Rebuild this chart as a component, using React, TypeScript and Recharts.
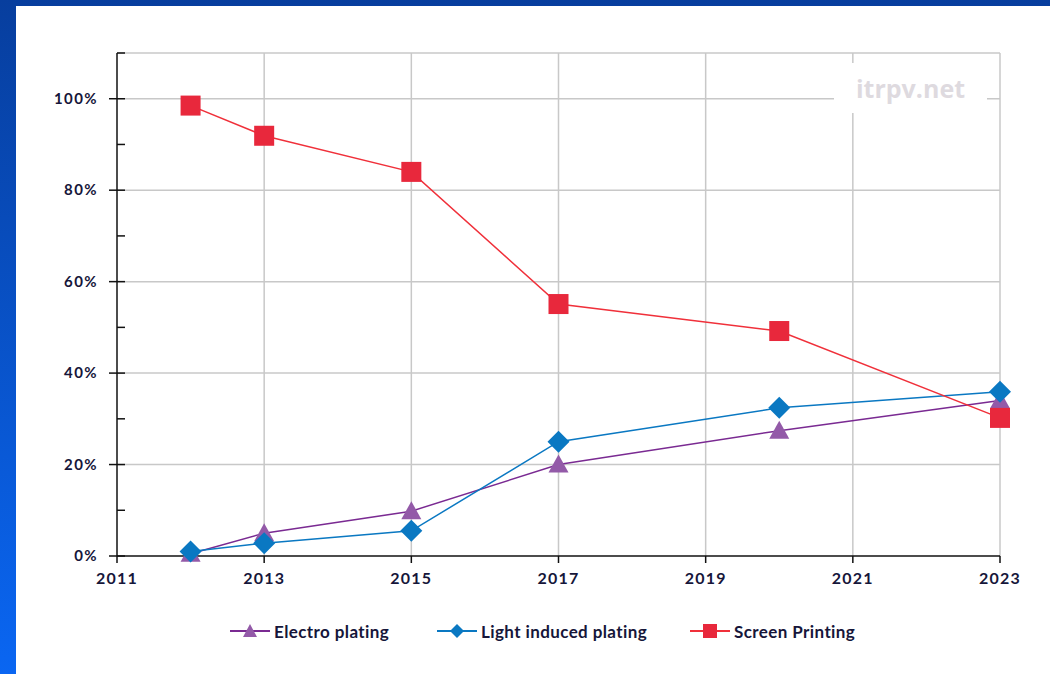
import React from "react"
import { LineChart, Line, XAxis, YAxis, CartesianGrid } from "recharts"

const years = [2012, 2013, 2015, 2017, 2020, 2023]
const electroPlating = [0.005, 0.05, 0.098, 0.2, 0.274, 0.34]
const lightInducedPlating = [0.01, 0.028, 0.055, 0.25, 0.324, 0.359]
const screenPrinting = [0.985, 0.919, 0.84, 0.551, 0.492, 0.302]

const xTicks = [2011, 2013, 2015, 2017, 2019, 2021, 2023]
const yTicks = [0, 0.1, 0.2, 0.3, 0.4, 0.5, 0.6, 0.7, 0.8, 0.9, 1.0, 1.1]

const data = years.map((year, i) => ({
  year,
  electro: electroPlating[i],
  light: lightInducedPlating[i],
  screen: screenPrinting[i],
}))

const font = "Lato, 'Open Sans', sans-serif"
const textColor = "#16163a"

const C = {
  electroLine: "#7a2a92",
  electroMark: "#935aa8",
  light: "#0a78c2",
  screenLine: "#f0303a",
  screenMark: "#e8283c",
}

function Triangle(props: any) {
  const { cx, cy } = props
  if (cx == null || cy == null) return null
  return <path d={`M${cx},${cy - 10} L${cx + 10},${cy + 8} L${cx - 10},${cy + 8} Z`} fill={C.electroMark} />
}

function Diamond(props: any) {
  const { cx, cy } = props
  if (cx == null || cy == null) return null
  return <path d={`M${cx},${cy - 11} L${cx + 11},${cy} L${cx},${cy + 11} L${cx - 11},${cy} Z`} fill={C.light} />
}

function Square(props: any) {
  const { cx, cy } = props
  if (cx == null || cy == null) return null
  return <rect x={cx - 10} y={cy - 10} width={20} height={20} fill={C.screenMark} />
}

function YTick(props: any) {
  const { x, y, payload } = props
  const v = Math.round(payload.value * 100)
  const major = v % 20 === 0 && v <= 100
  return (
    <g>
      <line x1={major ? x - 8 : x} x2={x + 8} y1={y} y2={y} stroke="#111" strokeWidth={1.5} />
      {major && (
        <text x={x - 19} y={y + 5} textAnchor="end" fontSize={15} fontWeight={700} letterSpacing={1.4} fontFamily={font} fill={textColor}>
          {v}%
        </text>
      )}
    </g>
  )
}

const legendItems = [
  { name: "Electro plating", line: C.electroLine, mark: "tri", color: C.electroMark, left: 228 },
  { name: "Light induced plating", line: C.light, mark: "dia", color: C.light, left: 435 },
  { name: "Screen Printing", line: C.screenLine, mark: "sq", color: C.screenMark, left: 688 },
]

function LegendRow() {
  return (
    <>
      {legendItems.map((it) => (
        <div
          key={it.name}
          style={{
            position: "absolute",
            left: it.left,
            top: 620,
            display: "flex",
            alignItems: "center",
            fontFamily: font,
            fontSize: 17,
            fontWeight: 700,
            letterSpacing: 0.4,
            color: textColor,
            whiteSpace: "nowrap",
          }}
        >
          <svg width={44} height={22}>
            <line x1={2} x2={42} y1={11} y2={11} stroke={it.line} strokeWidth={2} />
            {it.mark === "tri" && <path d="M22,4 L29,17 L15,17 Z" fill={it.color} />}
            {it.mark === "dia" && <path d="M22,4 L29,11 L22,18 L15,11 Z" fill={it.color} />}
            {it.mark === "sq" && <rect x={15} y={4} width={14} height={14} fill={it.color} />}
          </svg>
          <span style={{ marginLeft: 2 }}>{it.name}</span>
        </div>
      ))}
    </>
  )
}

export default function App() {
  return (
    <div
      style={{
        position: "absolute",
        left: 0,
        top: 0,
        width: 1050,
        height: 674,
        background: "linear-gradient(to bottom, #073e9e, #0a66f2)",
        overflow: "hidden",
      }}
    >
      <div style={{ position: "absolute", left: 16, top: 6, right: 0, bottom: 0, background: "#fff" }} />
      <div style={{ position: "absolute", left: 0, top: 0 }}>
        <LineChart width={1050} height={674} data={data} margin={{ top: 53, right: 50, bottom: 88, left: 0 }}>
          <CartesianGrid
            stroke="#c8c8c8"
            strokeWidth={1.5}
            horizontalValues={[0.2, 0.4, 0.6, 0.8, 1.0, 1.1]}
            verticalValues={[2013, 2015, 2017, 2019, 2021, 2023]}
          />
          <XAxis
            dataKey="year"
            type="number"
            domain={[2011, 2023]}
            ticks={xTicks}
            height={30}
            tickSize={7}
            tickMargin={10}
            axisLine={{ stroke: "#111", strokeWidth: 1.5 }}
            tickLine={{ stroke: "#111", strokeWidth: 1.5 }}
            tick={{ fontSize: 16, fontWeight: 700, fontFamily: font, fill: textColor, letterSpacing: 1.2 }}
          />
          <YAxis
            type="number"
            domain={[0, 1.1]}
            ticks={yTicks}
            width={117}
            tickSize={0}
            tickMargin={0}
            tickLine={false}
            axisLine={{ stroke: "#111", strokeWidth: 1.5 }}
            tick={<YTick />}
            interval={0}
          />
          <Line dataKey="electro" stroke={C.electroLine} strokeWidth={1.5} dot={<Triangle />} activeDot={false} isAnimationActive={false} />
          <Line dataKey="light" stroke={C.light} strokeWidth={1.5} dot={<Diamond />} activeDot={false} isAnimationActive={false} />
          <Line dataKey="screen" stroke={C.screenLine} strokeWidth={1.5} dot={<Square />} activeDot={false} isAnimationActive={false} />
        </LineChart>
      </div>
      <div
        style={{
          position: "absolute",
          left: 834,
          top: 63,
          width: 153,
          height: 50,
          background: "#fff",
          display: "flex",
          alignItems: "center",
          justifyContent: "center",
          fontFamily: "'Open Sans', sans-serif",
          fontWeight: 700,
          fontSize: 25,
          color: "#dedadf",
        }}
      >
        itrpv.net
      </div>
      <LegendRow />
    </div>
  )
}
